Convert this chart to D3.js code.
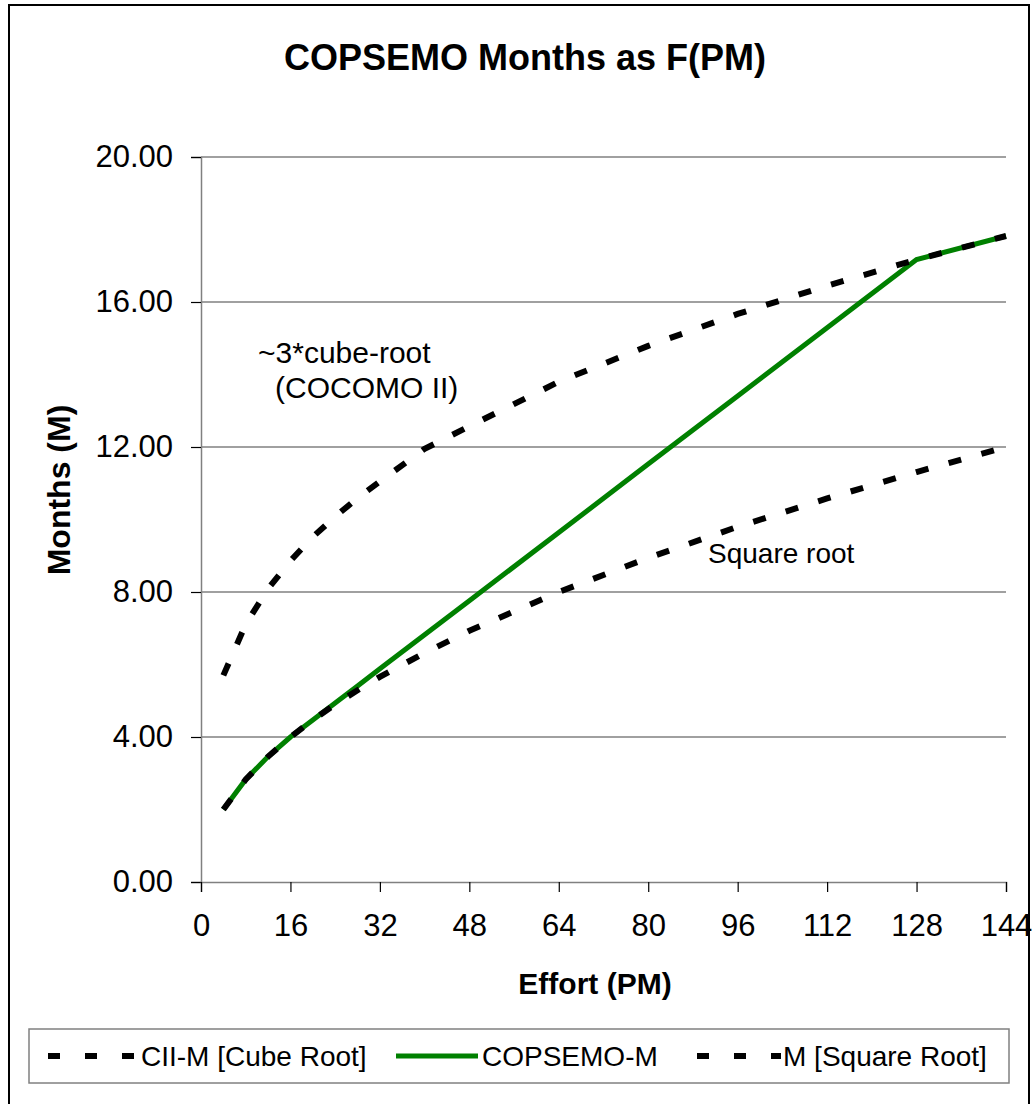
<!DOCTYPE html>
<html>
<head>
    <script src="https://d3js.org/d3.v7.min.js"></script>
    <style>
        body { margin: 0; background: #fff; }
        text { font-family: Arial, "Liberation Sans", sans-serif; }
    </style>
</head>
<body>
    <svg width="1035" height="1104"></svg>
    <script>
        // effort values (PM) and the three schedule curves (months)
        const pm = [4, 8, 12, 16, 20, 24, 28, 32, 40, 48, 64, 80, 96, 112, 128, 144];
        const cubeRoot = [5.70, 7.11, 8.09, 8.86, 9.52, 10.08, 10.59, 11.05, 11.95, 12.57, 13.80, 14.79, 15.67, 16.45, 17.17, 17.82];
        const copsemo = [2.00, 2.83, 3.46, 4.00, 4.47, 4.94, 5.41, 5.88, 6.82, 7.76, 9.64, 11.53, 13.41, 15.29, 17.17, 17.82];
        const squareRoot = [2.00, 2.83, 3.46, 4.00, 4.47, 4.90, 5.29, 5.66, 6.32, 6.93, 8.00, 8.94, 9.80, 10.58, 11.31, 12.00];
        const xTicks = [0, 16, 32, 48, 64, 80, 96, 112, 128, 144];
        const yTicks = [0, 4, 8, 12, 16, 20];

        const svg = d3.select("svg");

        // outer chart border
        svg.append("rect")
            .attr("x", 9).attr("y", 5)
            .attr("width", 1020).attr("height", 1110)
            .attr("fill", "none")
            .attr("stroke", "#000")
            .attr("stroke-width", 2);

        const x = d3.scaleLinear().domain([0, 144]).range([201, 1006]);
        const y = d3.scaleLinear().domain([0, 20]).range([882, 157]);

        // gridlines
        svg.append("g")
            .selectAll("line")
            .data(yTicks.filter(d => d > 0))
            .enter()
            .append("line")
            .attr("x1", x(0)).attr("x2", x(144))
            .attr("y1", d => y(d)).attr("y2", d => y(d))
            .attr("stroke", "#808080")
            .attr("stroke-width", 1.5);

        const yAxis = svg.append("g")
            .attr("transform", "translate(" + x(0) + ",0)")
            .call(d3.axisLeft(y).tickValues(yTicks).tickFormat(d3.format(".2f")).tickSize(10).tickPadding(18));

        const xAxis = svg.append("g")
            .attr("transform", "translate(0," + y(0) + ")")
            .call(d3.axisBottom(x).tickValues(xTicks).tickSize(10).tickPadding(22));

        [xAxis, yAxis].forEach(g => {
            g.select(".domain").attr("stroke", "#808080").attr("stroke-width", 1.5);
            g.selectAll(".tick line").attr("stroke", "#000").attr("stroke-width", 1.2);
            g.selectAll(".tick text")
                .attr("fill", "#000")
                .style("font-family", "Arial, 'Liberation Sans', sans-serif")
                .style("font-size", "31px");
        });

        const line = d3.line()
            .x((d, i) => x(pm[i]))
            .y(d => y(d));

        svg.append("path")
            .attr("d", line(copsemo))
            .attr("fill", "none")
            .attr("stroke", "#008000")
            .attr("stroke-width", 5);

        [cubeRoot, squareRoot].forEach(s => {
            svg.append("path")
                .attr("d", line(s))
                .attr("fill", "none")
                .attr("stroke", "#000")
                .attr("stroke-width", 6)
                .attr("stroke-dasharray", "13,21");
        });

        // titles
        svg.append("text")
            .attr("x", 525).attr("y", 70)
            .style("text-anchor", "middle")
            .style("font-weight", "bold")
            .style("font-size", "36px")
            .text("COPSEMO Months as F(PM)");

        svg.append("text")
            .attr("x", 595).attr("y", 994)
            .style("text-anchor", "middle")
            .style("font-weight", "bold")
            .style("font-size", "30px")
            .text("Effort (PM)");

        svg.append("text")
            .attr("transform", "rotate(-90)")
            .attr("x", -490).attr("y", 70)
            .style("text-anchor", "middle")
            .style("font-weight", "bold")
            .style("font-size", "32px")
            .text("Months (M)");

        // annotations
        svg.append("text").attr("x", 258).attr("y", 363).style("font-size", "30px").text("~3*cube-root");
        svg.append("text").attr("x", 275).attr("y", 398).style("font-size", "30px").text("(COCOMO II)");
        svg.append("text").attr("x", 708).attr("y", 563).style("font-size", "28px").text("Square root");

        // legend
        svg.append("rect")
            .attr("x", 29).attr("y", 1029)
            .attr("width", 980).attr("height", 54)
            .attr("fill", "#fff")
            .attr("stroke", "#808080")
            .attr("stroke-width", 1.5);

        const legendItems = [
            { name: "CII-M [Cube Root]", x0: 48, x1: 134, tx: 141, dashed: true },
            { name: "COPSEMO-M", x0: 396, x1: 478, tx: 482, dashed: false },
            { name: "M [Square Root]", x0: 697, x1: 781, tx: 783, dashed: true }
        ];

        const lg = svg.append("g").selectAll("g").data(legendItems).enter().append("g");
        lg.append("line")
            .attr("x1", d => d.x0).attr("x2", d => d.x1)
            .attr("y1", 1056).attr("y2", 1056)
            .attr("stroke", d => d.dashed ? "#000" : "#008000")
            .attr("stroke-width", d => d.dashed ? 6 : 5)
            .attr("stroke-dasharray", d => d.dashed ? "12,25" : null);
        lg.append("text")
            .attr("x", d => d.tx).attr("y", 1066)
            .style("font-size", "28px")
            .text(d => d.name);
    </script>
</body>
</html>
